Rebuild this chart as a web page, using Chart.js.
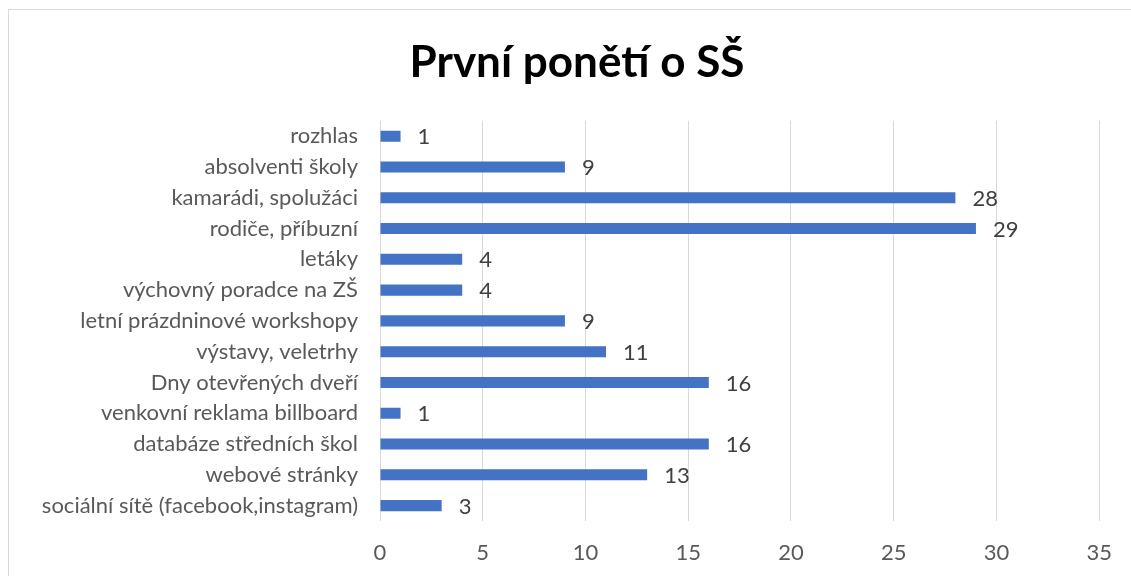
<!DOCTYPE html>
<html lang="cs">
<head>
  <meta charset="UTF-8">
  <title>První ponětí o SŠ</title>
  <script src="https://cdn.jsdelivr.net/npm/chart.js"></script>
  <style>
    html, body { margin: 0; padding: 0; background: #fff; overflow: hidden; }
    .frame {
      position: absolute;
      left: 8px;
      top: 9px;
      width: 1140px;
      height: 600px;
      border: 1px solid #d9d9d9;
      background: #fff;
    }
    .frame canvas { position: absolute; left: 0; top: 0; }
  </style>
</head>
<body>
<div class="frame">
  <canvas id="chart" width="1122" height="566"></canvas>
</div>

<script>
  const categories = [
    'rozhlas',
    'absolventi školy',
    'kamarádi, spolužáci',
    'rodiče, příbuzní',
    'letáky',
    'výchovný poradce na ZŠ',
    'letní prázdninové workshopy',
    'výstavy, veletrhy',
    'Dny otevřených dveří',
    'venkovní reklama billboard',
    'databáze středních škol',
    'webové stránky',
    'sociální sítě (facebook,instagram)'
  ];
  const counts = [1, 9, 28, 29, 4, 4, 9, 11, 16, 1, 16, 13, 3];
  const xTicks = [0, 5, 10, 15, 20, 25, 30, 35];

  const fontFamily = 'Lato, "Open Sans", sans-serif';

  // value labels to the right of each bar
  const valueLabels = {
    id: 'valueLabels',
    afterDatasetsDraw(chart) {
      const ctx = chart.ctx;
      const meta = chart.getDatasetMeta(0);
      ctx.save();
      ctx.font = '22px ' + fontFamily;
      ctx.fillStyle = '#404040';
      ctx.textAlign = 'left';
      ctx.textBaseline = 'middle';
      meta.data.forEach((bar, i) => {
        ctx.fillText(String(counts[i]), bar.x + 17, bar.y + 1);
      });
      ctx.restore();
    }
  };

  // the title sits a bit right of the canvas centre in the original
  const shiftTitle = {
    id: 'shiftTitle',
    afterLayout(chart) {
      const t = chart.titleBlock;
      if (t) { t.left += 22; t.right += 22; }
    }
  };

  const ctx = document.getElementById('chart').getContext('2d');
  new Chart(ctx, {
    type: 'bar',
    data: {
      labels: categories,
      datasets: [{
        data: counts,
        backgroundColor: '#4472C4',
        barPercentage: 0.36,
        categoryPercentage: 1
      }]
    },
    options: {
      indexAxis: 'y',
      responsive: false,
      animation: false,
      layout: { padding: { left: 0, right: 30, top: 0, bottom: 0 } },
      plugins: {
        legend: { display: false },
        tooltip: { enabled: false },
        title: {
          display: true,
          text: 'První ponětí o SŠ',
          color: '#000',
          font: { family: fontFamily, size: 44, weight: 'bold' },
          padding: { top: 26, bottom: 32 }
        }
      },
      scales: {
        x: {
          min: 0,
          max: 35,
          afterBuildTicks(scale) {
            scale.ticks = xTicks.map(v => ({ value: v }));
          },
          afterFit(scale) { scale.height = 55; },
          grid: { color: '#d9d9d9', lineWidth: 1, drawTicks: false },
          border: { display: false },
          ticks: {
            color: '#595959',
            padding: 19,
            font: { family: fontFamily, size: 22 }
          }
        },
        y: {
          afterFit(scale) { scale.width = 371; },
          grid: { display: false, drawTicks: false },
          border: { display: false },
          ticks: {
            color: '#595959',
            padding: 22,
            autoSkip: false,
            font: { family: fontFamily, size: 22 }
          }
        }
      }
    },
    plugins: [valueLabels, shiftTitle]
  });
</script>
</body>
</html>
